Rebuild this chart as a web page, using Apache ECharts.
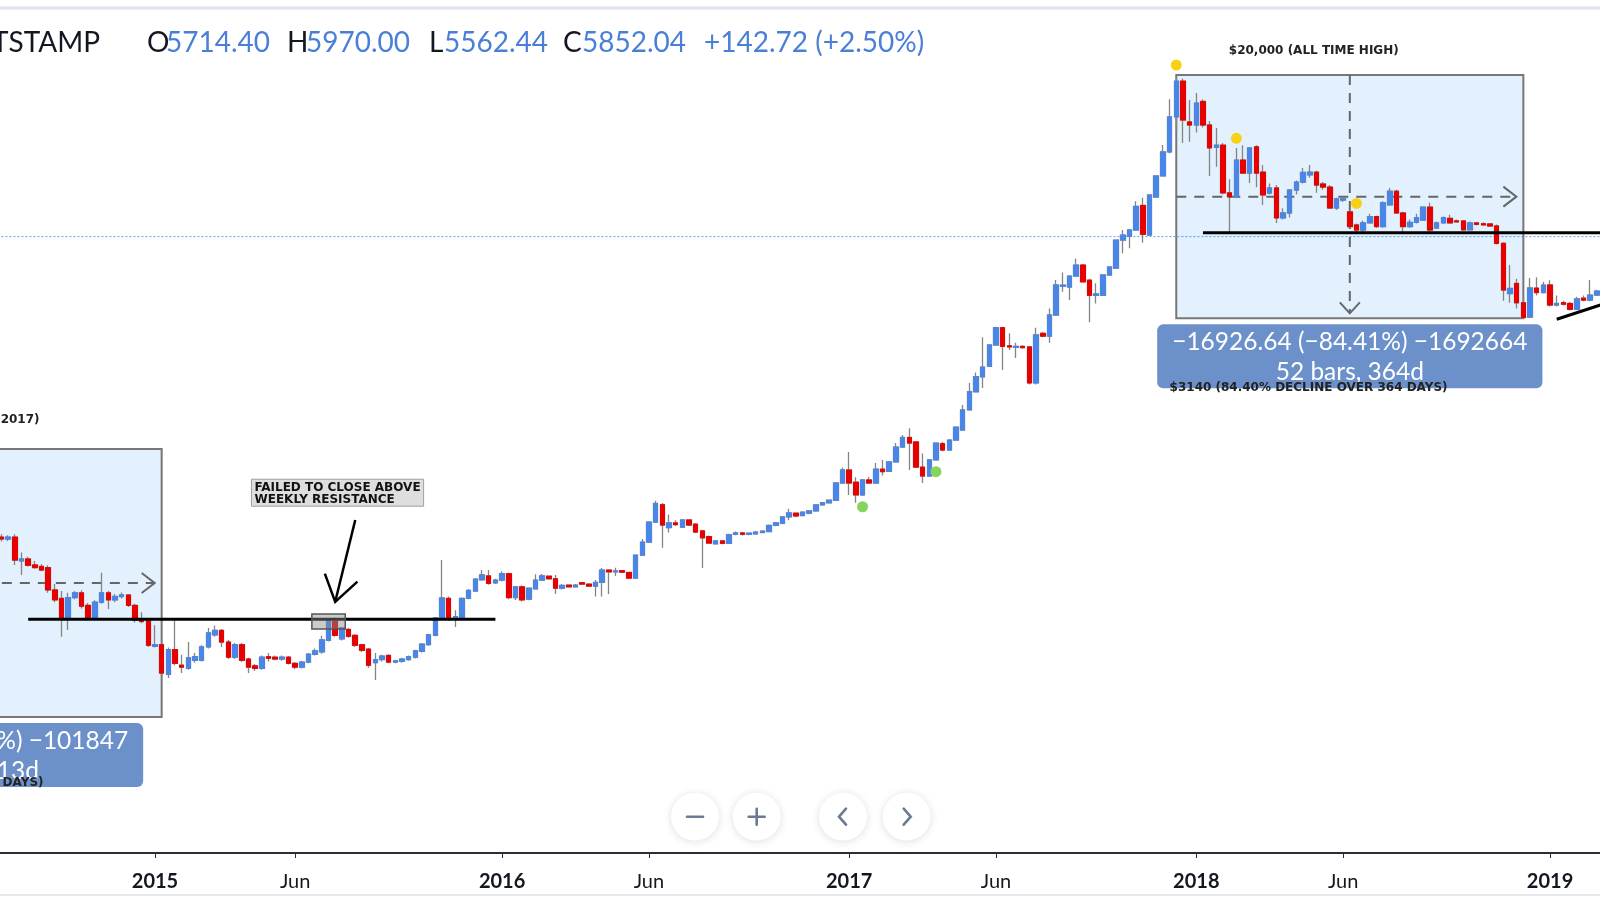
<!DOCTYPE html>
<html>
<head>
<meta charset="utf-8">
<title>BTCUSD weekly – Bitstamp</title>
<script src="https://cdn.jsdelivr.net/npm/echarts@6.0.0/dist/echarts.min.js"></script>
<style>
html, body { margin: 0; padding: 0; background: #ffffff; }
#chart { width: 1600px; height: 900px; }
</style>
</head>
<body>
<div id="chart"></div>
<script>
// ---------------- data ----------------
const firstWeek = '2014-07-07';
const weekCount = 244;
const categories = [];
for (let k = 0; k < weekCount; k++) {
  categories.push(new Date(Date.UTC(2014, 6, 7) + k * 604800000).toISOString().slice(0, 10));
}

// weekly OHLC (Bitstamp BTCUSD); first three weeks and last week are off-screen
const open = [null, null, null,
  548,540,548,455,462,441,436,432,363,340,
  292,342,355,322,292,330,355,336,345,349,
  322,287,286,234,237,188,228,202,197,210,
  210,233,256,265,242,215,237,212,201,197,
  216,215,212,215,205,199,207,220,224,245,
  284,248,267,255,237,229,206,211,218,207,
  208,211,215,225,237,255,290,340,290,293,
  340,360,393,405,384,392,412,342,372,338,
  366,392,404,396,368,377,372,384,380,374,
  385,424,418,422,416,398,476,527,616,705,
  590,612,592,626,606,575,550,520,532,522,
  560,566,560,562,568,572,600,610,641,660,
  648,660,672,704,716,730,835,924,840,761,
  855,835,930,915,984,1105,1190,1150,945,882,
  1000,1135,1080,1167,1262,1475,1700,1910,2070,2446,
  2800,2430,2400,2420,2410,1820,2680,2620,3090,3860,
  3842,4185,4560,4050,3600,3600,4220,4450,5540,5700,
  5990,7250,5760,7745,9125,11000,14450,19100,13900,13571,
  16300,13571,11400,11600,8000,7750,10330,9330,11450,9400,
  7990,8310,6580,6840,8180,8700,9200,9400,8570,8370,
  7110,7560,6900,6230,5990,6330,6650,6150,7280,8100,
  6840,6150,6360,6470,7160,6080,6330,6560,6430,6430,
  6000,6330,6290,6280,6180,5400,3650,3950,3400,3040,
  3810,3680,3903,3340,3400,3380,3230,3520,3470,3610,
  null];
const high = [null, null, null,
  560,556,560,486,470,455,444,440,380,360,
  355,360,362,328,335,415,360,352,356,352,
  326,305,290,276,240,232,287,219,242,222,
  236,270,275,268,246,240,240,214,204,218,
  222,218,218,217,207,209,222,230,254,291,
  293,272,270,257,239,231,222,219,220,211,
  214,218,228,240,258,294,458,345,310,342,
  365,398,424,424,396,420,415,374,376,370,
  410,411,406,408,380,379,380,386,382,392,
  431,426,432,424,418,478,540,620,727,715,
  653,625,630,630,610,580,555,535,535,562,
  572,570,568,574,578,604,616,645,683,664,
  670,675,708,720,735,840,943,1063,874,860,
  875,975,998,990,1140,1214,1280,1155,1050,1005,
  1145,1150,1175,1295,1533,1820,1975,2600,2460,2820,
  2820,2680,2490,2440,2420,2800,2700,3250,4058,4300,
  4200,4800,4600,4100,3960,4240,4500,5560,5990,6000,
  7500,7700,7890,9150,11613,16600,19666,19500,16488,17400,
  16600,14000,13250,11800,8900,11350,11600,11400,11600,9940,
  8600,8500,7100,8200,8800,9700,9940,9500,8700,8500,
  7700,7750,7000,6300,6450,6800,6700,7500,8310,8200,
  6900,6500,6800,7200,7400,6400,6650,6750,6500,6450,
  6400,6380,6350,6320,6250,5450,4560,4100,3550,4120,
  4150,4000,4050,3600,3450,3420,3560,3600,4060,3760,
  null];
const low = [null, null, null,
  530,532,441,408,436,428,420,355,330,252,
  266,338,314,288,288,326,313,330,340,318,
  282,280,233,232,186,183,202,190,195,206,
  208,230,252,233,212,212,207,190,193,195,
  208,210,209,203,196,197,205,218,221,243,
  252,245,250,233,224,198,180,208,205,205,
  206,209,213,223,235,253,288,285,272,291,
  338,358,390,378,380,388,338,336,332,335,
  364,390,394,352,364,370,370,378,372,345,
  345,352,405,414,396,396,474,524,612,504,
  568,598,588,598,565,431,520,518,518,520,
  556,555,556,558,565,570,596,606,625,640,
  644,655,668,700,712,726,830,761,716,755,
  830,830,885,910,980,1100,924,940,835,878,
  995,1070,1075,1160,1258,1470,1690,1750,2060,2440,
  2013,2353,2210,2380,1800,1800,2600,2490,3080,3700,
  3473,4170,3980,2920,3380,3590,4200,4440,5000,5200,
  5980,5420,5740,7740,9100,10900,13000,11800,11900,12800,
  13300,9125,9800,7900,5900,7700,9300,8640,8360,7280,
  7900,6330,6500,6600,7900,8600,9000,8000,8200,7050,
  7000,7450,6100,5800,5850,6300,6100,6100,7250,6800,
  5900,6100,6300,6450,5900,6050,6300,6300,6350,5950,
  5980,6200,6200,6150,5350,3450,3400,3250,3000,3030,
  3600,3650,3300,3300,3330,3200,3220,3440,3440,3580,
  null];
const close = [null, null, null,
  540,548,458,462,440,432,424,363,336,292,
  342,355,320,292,330,355,336,345,349,322,
  287,284,236,237,190,228,205,199,214,216,
  233,260,265,242,215,237,210,199,197,215,
  213,212,215,205,199,207,220,226,246,287,
  255,270,253,236,227,202,211,217,207,209,
  212,216,226,238,256,292,341,292,295,340,
  362,395,408,382,392,412,342,372,336,368,
  392,405,396,368,376,372,377,380,374,385,
  424,418,421,417,398,476,527,616,712,602,
  612,604,626,602,570,545,523,532,522,558,
  566,560,565,570,574,600,612,641,661,646,
  665,672,704,716,730,835,924,835,761,855,
  835,930,912,984,1105,1190,1140,945,882,1000,
  1140,1080,1167,1290,1475,1700,1910,2060,2446,2800,
  2420,2410,2420,2395,1820,2644,2620,3090,3903,3900,
  4185,4560,4000,3600,3640,4220,4490,5540,5760,5990,
  7200,5790,7868,9125,11000,14450,19100,14110,13571,16100,
  13571,11350,11600,8000,7750,10330,9330,11350,9330,7870,
  8310,6580,6840,8180,8700,9380,9400,8500,8370,7110,
  7630,7650,6150,5990,6330,6650,6150,7400,8100,6840,
  6150,6360,6600,7160,5990,6330,6600,6330,6380,6000,
  6330,6260,6230,6180,5400,3754,3800,3400,3030,3813,
  3680,3900,3340,3380,3360,3230,3500,3470,3610,3720,
  null];

// x-axis tick labels
const tickDates  = ['2015-01-05','2015-06-01','2016-01-04','2016-06-06','2017-01-02','2017-06-05','2018-01-01','2018-06-04','2019-01-07'];
const tickLabels = ['2015','Jun','2016','Jun','2017','Jun','2018','Jun','2019'];

// header (last bar)
const symbolName = 'BITSTAMP';
const lastBar = { open: '5714.40', high: '5970.00', low: '5562.44', close: '5852.04', change: '+142.72 (+2.50%)' };
const priceLine = 5690;   // last-price guide, as placed in the picture

// annotations (dates + prices)
const drawdownBoxes = [
  { from: '2013-11-25', to: '2015-01-12', top: 1088, bottom: 135 },
  { from: '2017-12-11', to: '2018-12-10', top: 20050, bottom: 3010 }
];
const measureLines1 = ['\u22121018.47 (\u221287.03%) \u2212101847', '59 bars, 413d'];
const measureLines2 = ['\u221216926.64 (\u221284.41%) \u22121692664', '52 bars, 364d'];
const levelLines = [
  { from: '2014-08-25', to: '2015-12-28', price: 289 },
  { from: '2018-01-08', to: '2019-03-04', price: 5866 }
];
const trendLine = { from: '2019-01-14', fromPrice: 2990, to: '2019-03-04', toPrice: 3365 };
const failedZone = { from: '2015-06-22', to: '2015-07-20', top: 301, bottom: 268 };
const failedNote = { date: '2015-04-13', price: 860, lines: ['FAILED TO CLOSE ABOVE', 'WEEKLY RESISTANCE'] };
const arrowNote = { tail: '2015-08-03', tailPrice: 626, head: '2015-07-13', headPrice: 331 };
const yellowDots = [['2017-12-11', 21650], ['2018-02-12', 12230], ['2018-06-18', 7370]];
const greenDots = [['2017-01-16', 694], ['2017-04-03', 912]];
const textNotes = [
  { text: '$20,000 (ALL TIME HIGH)', date: '2018-04-30', price: 24200, align: 'center', dx: 4 },
  { text: '$3140 (84.40% DECLINE OVER 364 DAYS)', date: '2017-12-04', price: 1750, align: 'left', dx: 0 },
  { text: '$1163 (ALL TIME HIGH 2013-2017)', date: '2014-09-08', price: 1365, align: 'right', dx: -2 },
  { text: '$152 (86.92% DECLINE OVER 413 DAYS)', date: '2014-09-08', price: 80.7, align: 'right', dx: 2 }
];

// ---------------- rendering ----------------
const upColor = '#4a86e8', downColor = '#e60000', wickColor = '#848484';
const ohlc = categories.map((d, k) => open[k] == null ? ['-', '-', '-', '-'] : [open[k], close[k], low[k], high[k]]);
const bodies = categories.map((d, k) => open[k] == null ? ['-', '-', '-', '-'] :
  [open[k], close[k], Math.min(open[k], close[k]), Math.max(open[k], close[k])]);

const measureCtx = document.createElement('canvas').getContext('2d');
function textWidth(t, font) { measureCtx.font = font; return measureCtx.measureText(t).width; }
const noteFont = 'bold 12px "DejaVu Sans"';
const infoFont = '24.5px Lato';

function helpers(api) {
  const a = api.coord([0, 1000]);
  const b = api.coord([1, 1000]);
  const bw = b[0] - a[0];
  const wi = d => Math.round((Date.parse(d) - Date.parse(firstWeek)) / 604800000);
  const X = (d, frac) => a[0] + (wi(d) + (frac || 0)) * bw;
  const Y = p => api.coord([0, p])[1];
  return { X, Y, bw };
}
function txt(x, y, text, font, fill, align, valign) {
  return { type: 'text', x: x, y: y, style: { text: text, font: font, fill: fill,
    align: align, textAlign: align, verticalAlign: valign || 'middle', textVerticalAlign: valign || 'middle' } };
}

function renderBack(params, api) {
  const { X, Y } = helpers(api);
  const ch = [];
  const yl = Y(priceLine);
  ch.push({ type: 'line', shape: { x1: X(categories[0]), y1: yl, x2: X(categories[weekCount - 1]), y2: yl },
    style: { stroke: '#5b9cf6', lineWidth: 1, lineDash: [2, 2] } });
  drawdownBoxes.forEach(b => {
    const xl = X(b.from), xr = X(b.to), yt = Y(b.top), yb = Y(b.bottom);
    ch.push({ type: 'rect', shape: { x: xl, y: yt, width: xr - xl, height: yb - yt },
      style: { fill: 'rgba(33,150,243,0.13)', stroke: '#777777', lineWidth: 2 } });
    const ym = Y(Math.sqrt(b.top * b.bottom));
    const xc = (xl + xr) / 2;
    const dash = { stroke: '#666666', lineWidth: 2, lineDash: [10, 8], fill: null };
    ch.push({ type: 'line', shape: { x1: xl, y1: ym, x2: xr - 8, y2: ym }, style: dash });
    ch.push({ type: 'polyline', shape: { points: [[xr - 20, ym - 10], [xr - 7, ym], [xr - 20, ym + 10]] },
      style: { stroke: '#666666', lineWidth: 2, fill: null } });
    ch.push({ type: 'line', shape: { x1: xc, y1: yt, x2: xc, y2: yb - 6 }, style: dash });
    ch.push({ type: 'polyline', shape: { points: [[xc - 10, yb - 16], [xc, yb - 5], [xc + 10, yb - 16]] },
      style: { stroke: '#666666', lineWidth: 2, fill: null } });
  });
  return { type: 'group', children: ch };
}

function renderFront(params, api) {
  const { X, Y, bw } = helpers(api);
  const ch = [];
  levelLines.forEach(l => {
    const y = Y(l.price);
    ch.push({ type: 'line', shape: { x1: X(l.from), y1: y, x2: X(l.to), y2: y }, style: { stroke: '#000', lineWidth: 3 } });
  });
  ch.push({ type: 'line', shape: { x1: X(trendLine.from), y1: Y(trendLine.fromPrice), x2: X(trendLine.to), y2: Y(trendLine.toPrice) },
    style: { stroke: '#000', lineWidth: 3 } });
  // failed-to-close zone
  const fx1 = X(failedZone.from, -0.5), fx2 = X(failedZone.to, 0.5), fy1 = Y(failedZone.top), fy2 = Y(failedZone.bottom);
  ch.push({ type: 'rect', shape: { x: fx1, y: fy1, width: fx2 - fx1, height: fy2 - fy1 },
    style: { fill: 'rgba(140,140,140,0.45)', stroke: '#555', lineWidth: 1.5 } });
  // arrow
  const tx = X(arrowNote.tail), ty = Y(arrowNote.tailPrice), hx = X(arrowNote.head), hy = Y(arrowNote.headPrice);
  const ang = Math.atan2(ty - hy, tx - hx), L = 30, sp = 34 * Math.PI / 180;
  ch.push({ type: 'line', shape: { x1: tx, y1: ty, x2: hx, y2: hy }, style: { stroke: '#000', lineWidth: 2.5 } });
  ch.push({ type: 'polyline', shape: { points: [[hx + L * Math.cos(ang - sp), hy + L * Math.sin(ang - sp)], [hx, hy],
    [hx + L * Math.cos(ang + sp), hy + L * Math.sin(ang + sp)]] }, style: { stroke: '#000', lineWidth: 2.5, fill: null } });
  // note box
  const nx = X(failedNote.date) + 3, ny = Y(failedNote.price);
  const nw = Math.max(...failedNote.lines.map(t => textWidth(t, noteFont))) + 6;
  ch.push({ type: 'rect', shape: { x: nx, y: ny, width: nw, height: 27 }, style: { fill: '#dedede', stroke: '#a0a0a0', lineWidth: 1 } });
  failedNote.lines.forEach((t, k) => ch.push(txt(nx + 3, ny + 9 + k * 11.5, t, noteFont, '#111', 'left')));
  // dots
  yellowDots.forEach(d => ch.push({ type: 'circle', shape: { cx: X(d[0]), cy: Y(d[1]), r: 5.5 }, style: { fill: '#f7d117' } }));
  greenDots.forEach(d => ch.push({ type: 'circle', shape: { cx: X(d[0]), cy: Y(d[1]), r: 5.5 }, style: { fill: '#86d45c' } }));
  // measure labels
  [measureLines1, measureLines2].forEach((lines, k) => {
    const b = drawdownBoxes[k];
    const xc = (X(b.from) + X(b.to)) / 2, yb = Y(b.bottom);
    const w = Math.max(...lines.map(t => textWidth(t, infoFont))) + 30;
    ch.push({ type: 'rect', shape: { x: xc - w / 2, y: yb + 6, width: w, height: 64, r: 6 }, style: { fill: 'rgba(95,136,197,0.92)' } });
    lines.forEach((t, j) => ch.push(txt(xc, yb + 24 + j * 30, t, infoFont, '#ffffff', 'center')));
  });
  // text notes
  textNotes.forEach(n => ch.push(txt(X(n.date) + n.dx, Y(n.price), n.text, noteFont, '#222', n.align)));
  return { type: 'group', children: ch };
}

// header + chrome graphics
const dark = '#131722', blue = '#4a7fd8', headFont = '28px Lato';
const headerItems = [
  { t: symbolName, x: 100, c: dark, a: 'right' },
  { t: 'O', x: 147, c: dark }, { t: lastBar.open, x: 166, c: blue },
  { t: 'H', x: 287, c: dark }, { t: lastBar.high, x: 306, c: blue },
  { t: 'L', x: 429, c: dark }, { t: lastBar.low, x: 444, c: blue },
  { t: 'C', x: 563, c: dark }, { t: lastBar.close, x: 582, c: blue },
  { t: lastBar.change, x: 704, c: blue }
];
const graphics = [];
graphics.push({ type: 'line', shape: { x1: 0, y1: 8, x2: 1600, y2: 8 }, style: { stroke: '#e0e3e9', lineWidth: 3 } });
graphics.push({ type: 'line', shape: { x1: 0, y1: 895, x2: 1600, y2: 895 }, style: { stroke: '#e6e8ee', lineWidth: 2 } });
headerItems.forEach(h => graphics.push({ type: 'text', x: h.x, y: 43,
  style: { text: h.t, font: headFont, fill: h.c, align: h.a || 'left', textAlign: h.a || 'left', verticalAlign: 'middle', textVerticalAlign: 'middle' } }));
const navButtons = [{ cx: 695, icon: 'minus' }, { cx: 756.7, icon: 'plus' }, { cx: 843, icon: 'left' }, { cx: 906.7, icon: 'right' }];
navButtons.forEach(b => {
  const cy = 816.7;
  graphics.push({ type: 'circle', shape: { cx: b.cx, cy: cy, r: 24 },
    style: { fill: '#ffffff', shadowBlur: 8, shadowColor: 'rgba(0,0,0,0.13)', shadowOffsetY: 1 } });
  const st = { stroke: '#6b7a8f', lineWidth: 2.6, fill: null, lineCap: 'round' };
  if (b.icon === 'minus' || b.icon === 'plus') graphics.push({ type: 'line', shape: { x1: b.cx - 8, y1: cy, x2: b.cx + 8, y2: cy }, style: st });
  if (b.icon === 'plus') graphics.push({ type: 'line', shape: { x1: b.cx, y1: cy - 8, x2: b.cx, y2: cy + 8 }, style: st });
  if (b.icon === 'left') graphics.push({ type: 'polyline', shape: { points: [[b.cx + 3, cy - 8], [b.cx - 4, cy], [b.cx + 3, cy + 8]] }, style: st });
  if (b.icon === 'right') graphics.push({ type: 'polyline', shape: { points: [[b.cx - 3, cy - 8], [b.cx + 4, cy], [b.cx - 3, cy + 8]] }, style: st });
});

const chart = echarts.init(document.getElementById('chart'), null, { renderer: 'canvas' });
const isTick = (i, v) => tickDates.indexOf(v) >= 0;
chart.setOption({
  animation: false,
  backgroundColor: '#ffffff',
  grid: { left: -21.89, right: -6.8, top: 10, bottom: 47, containLabel: false, outerBoundsMode: 'none' },
  xAxis: {
    type: 'category', data: categories, boundaryGap: true,
    axisLine: { show: true, lineStyle: { color: '#2a2e39', width: 2 } },
    axisTick: { show: true, alignWithLabel: true, interval: isTick, length: 5, lineStyle: { color: '#2a2e39', width: 1 } },
    axisLabel: {
      interval: isTick, margin: 19, hideOverlap: false,
      formatter: v => { const t = tickLabels[tickDates.indexOf(v)]; return /^\d/.test(t) ? '{y|' + t + '}' : '{m|' + t + '}'; },
      rich: {
        y: { fontFamily: 'Lato', fontSize: 20, fontWeight: 'bold', color: '#131722' },
        m: { fontFamily: 'Lato', fontSize: 20, color: '#131722' }
      }
    },
    splitLine: { show: false }
  },
  yAxis: { type: 'log', min: 46.80, max: 33235, show: false, splitLine: { show: false } },
  series: [
    { type: 'custom', name: 'boxes', coordinateSystem: 'cartesian2d', data: [[0, 1000]], encode: { x: 0, y: 1 },
      renderItem: renderBack, z: 1, silent: true, clip: false },
    { type: 'candlestick', name: 'wicks', data: ohlc, barWidth: 5, z: 3, silent: true,
      itemStyle: { color: wickColor, color0: wickColor, borderColor: wickColor, borderColor0: wickColor, borderWidth: 1.3 } },
    { type: 'candlestick', name: 'BTCUSD', data: bodies, barWidth: 5, z: 4, silent: true,
      itemStyle: { color: upColor, color0: downColor, borderColor: upColor, borderColor0: downColor, borderWidth: 1 } },
    { type: 'custom', name: 'drawings', coordinateSystem: 'cartesian2d', data: [[0, 1000]], encode: { x: 0, y: 1 },
      renderItem: renderFront, z: 10, silent: true, clip: false }
  ],
  graphic: { elements: graphics }
});
</script>
</body>
</html>
